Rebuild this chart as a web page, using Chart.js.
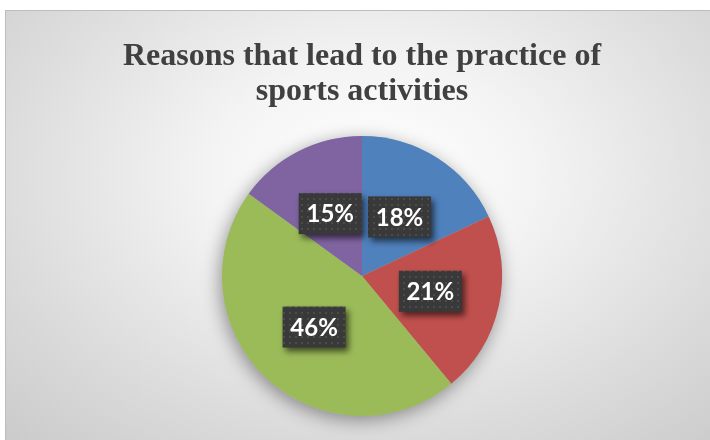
<!DOCTYPE html>
<html>
<head>
<meta charset="utf-8">
<script src="https://cdn.jsdelivr.net/npm/chart.js@4.4.0/dist/chart.umd.min.js"></script>
<style>
  body { margin: 0; background: #fff; }
  #frame {
    position: absolute; left: 5px; top: 10px; width: 705px; height: 430px;
    box-sizing: border-box;
    border-top: 1px solid #bdbdbd; border-left: 1px solid #bdbdbd;
    background: radial-gradient(ellipse 75% 85% at 52% 38%, #ffffff 0%, #f4f4f4 30%, #dcdcdc 70%, #cbcbcb 100%);
  }
  canvas { display: block; }
</style>
</head>
<body>
<div id="frame"><canvas id="pie" width="704" height="429"></canvas></div>
<script>
// Data
const categories = ['Reason 1', 'Reason 2', 'Reason 3', 'Reason 4'];
const shares = [18, 21, 46, 15];
const titleLines = ['Reasons that lead to the practice of', 'sports activities'];

const sliceColors = ['#4f81bd', '#c0504d', '#9bbb59', '#8064a2'];

// Dotted dark fill for the value boxes
const makeDots = () => {
  const c = document.createElement('canvas');
  c.width = 6; c.height = 6;
  const g = c.getContext('2d');
  g.fillStyle = '#393939';
  g.fillRect(0, 0, 6, 6);
  g.fillStyle = '#4b4b4b';
  g.fillRect(1, 1, 2, 2);
  return g.createPattern(c, 'repeat');
};
const dotPattern = makeDots();

// Soft shadow under the pie
const pieShadow = {
  id: 'pieShadow',
  beforeDatasetsDraw(chart) {
    const arc = chart.getDatasetMeta(0).data[0];
    if (!arc) return;
    const ctx = chart.ctx;
    ctx.save();
    ctx.shadowColor = 'rgba(0,0,0,0.4)';
    ctx.shadowBlur = 18;
    ctx.shadowOffsetX = -2;
    ctx.shadowOffsetY = 4;
    ctx.fillStyle = '#bbb';
    ctx.beginPath();
    ctx.arc(arc.x, arc.y, arc.outerRadius, 0, Math.PI * 2);
    ctx.fill();
    ctx.restore();
  }
};

// Percent labels in dark boxes
const labelBoxes = {
  id: 'labelBoxes',
  afterDatasetsDraw(chart) {
    const ctx = chart.ctx;
    const arcs = chart.getDatasetMeta(0).data;
    ctx.save();
    ctx.font = 'bold 24px Lato';
    ctx.textAlign = 'center';
    ctx.textBaseline = 'middle';
    arcs.forEach((arc, i) => {
      const { x, y } = arc.tooltipPosition();
      const text = shares[i] + '%';
      const w = 63;
      const h = 41;
      ctx.shadowColor = 'rgba(0,0,0,0.6)';
      ctx.shadowBlur = 6;
      ctx.shadowOffsetX = 3;
      ctx.shadowOffsetY = 4;
      ctx.fillStyle = dotPattern;
      ctx.fillRect(x - w / 2, y - h / 2, w, h);
      ctx.shadowColor = 'transparent';
      ctx.fillStyle = '#ffffff';
      ctx.fillText(text, x, y + 1);
    });
    ctx.restore();
  }
};

new Chart(document.getElementById('pie'), {
  type: 'pie',
  data: {
    labels: categories,
    datasets: [{
      data: shares,
      backgroundColor: sliceColors,
      borderWidth: 0
    }]
  },
  options: {
    responsive: false,
    animation: false,
    layout: { padding: { left: 8, right: 0, top: 0, bottom: 24 } },
    plugins: {
      legend: { display: false },
      tooltip: { enabled: false },
      title: {
        display: true,
        text: titleLines,
        color: '#404040',
        font: { family: 'Liberation Serif', size: 32, weight: 'bold', lineHeight: 35 / 32 },
        padding: { top: 28, bottom: 27 }
      }
    }
  },
  plugins: [pieShadow, labelBoxes]
});
</script>
</body>
</html>
